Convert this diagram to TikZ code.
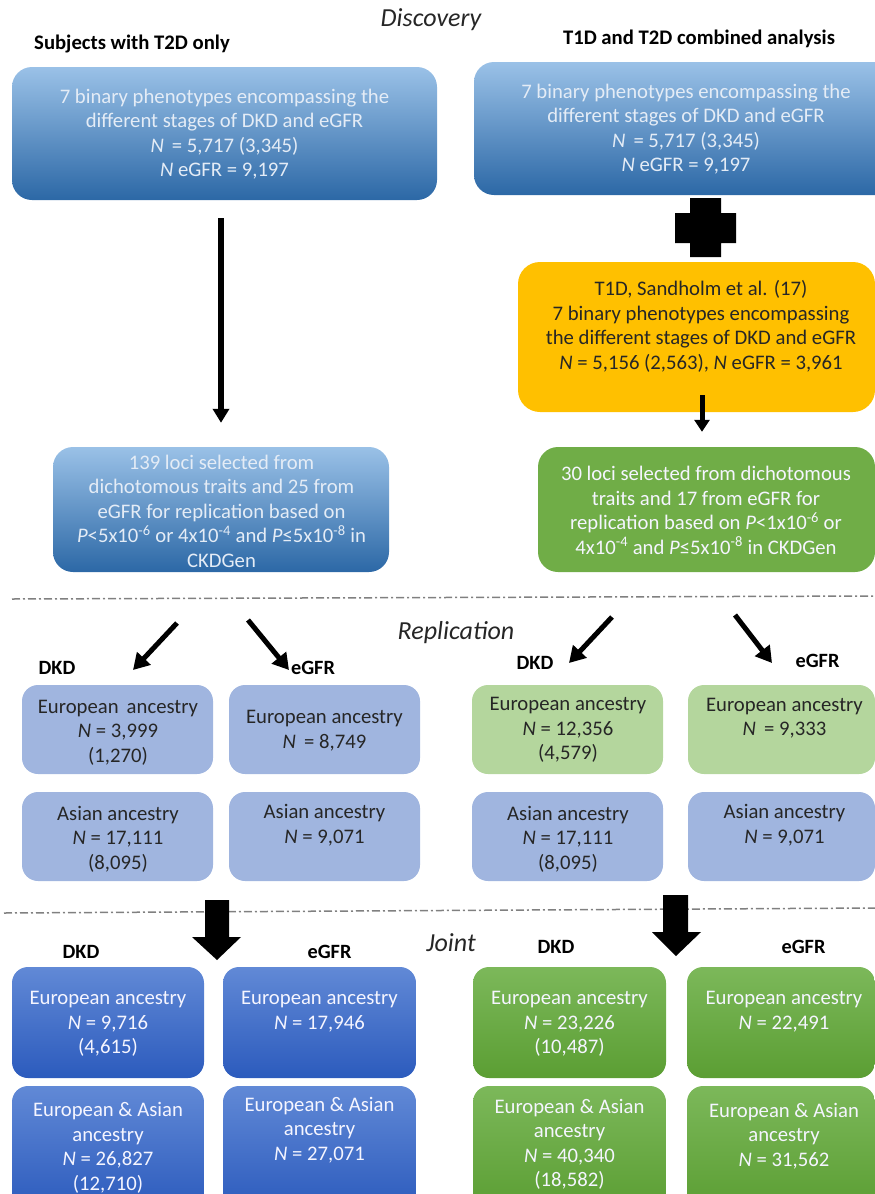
\documentclass[tikz,border=0pt]{standalone}
\usepackage{fontspec}
\setmainfont{Carlito}
\usetikzlibrary{arrows.meta,calc}
\definecolor{topblueA}{HTML}{9AC1E7}
\definecolor{topblueB}{HTML}{2C68A6}
\definecolor{lighttxt}{HTML}{E4ECF6}
\definecolor{orangebox}{HTML}{FFC000}
\definecolor{greenbox}{HTML}{70AD47}
\definecolor{repblue}{HTML}{A0B5DF}
\definecolor{repgreen}{HTML}{B4D69D}
\definecolor{jblueA}{HTML}{6189D6}
\definecolor{jblueB}{HTML}{2C5BBD}
\definecolor{jgreenA}{HTML}{7CB85A}
\definecolor{jgreenB}{HTML}{5B9E33}
\definecolor{dashgray}{HTML}{808080}
\newcommand{\bx}[6]{\node[#6, minimum width=#4pt, minimum height=#5pt] (#1) at (#2,#3) {};}
\begin{document}
\begin{tikzpicture}[x=1pt,y=-1pt,
  box/.style={rounded corners=16pt, inner sep=0pt, draw=none},
  topbox/.style={box, rounded corners=20pt, top color=topblueA, bottom color=topblueB},
  orbox/.style={box, rounded corners=22pt, fill=orangebox},
  grbox/.style={box, rounded corners=20pt, fill=greenbox},
  rbbox/.style={box, fill=repblue},
  rgbox/.style={box, fill=repgreen},
  jbbox/.style={box, top color=jblueA, bottom color=jblueB},
  jgbox/.style={box, top color=jgreenA, bottom color=jgreenB},
  txt/.style={align=center, inner sep=0pt, font=\fontsize{20.7}{24.5}\selectfont},
  ltxt/.style={txt, text=lighttxt},
  dtxt/.style={txt, text=black!85},
  wtxt/.style={txt, text=white!96!blue},
  head/.style={inner sep=0pt, font=\bfseries\fontsize{20.7}{23}\selectfont, text=black},
  lab/.style={inner sep=0pt, font=\bfseries\fontsize{20.3}{22}\selectfont, text=black},
  sect/.style={inner sep=0pt, font=\itshape\fontsize{26}{30}\selectfont, text=black!85},
  arrow/.style={line width=5pt, -{Triangle[width=16pt,length=14pt]}},
  darrow/.style={line width=5pt, -{Triangle[width=18pt,length=16pt]}},
  dashline/.style={draw=dashgray, line width=1.5pt, dash pattern=on 8pt off 3pt on 2pt off 3pt}
]
\useasboundingbox (0,0) rectangle (875,1194);
\clip (0,0) rectangle (875,1194);

% headings
\node[sect] (disc) at (431,20) {Discovery};
\node[head] (h1) at (132,44) {Subjects with T2D only};
\node[head] (h2) at (699,39) {T1D and T2D combined analysis};

% discovery boxes
\bx{tl}{224.5}{133.5}{425}{133}{topbox}
\node[ltxt] (tlT) at (224.5,134) {7 binary phenotypes encompassing the\\different stages of DKD and eGFR\\\textit{N}\, = 5,717 (3,345)\\\textit{N} eGFR = 9,197};
\bx{tr}{684.5}{128.5}{421}{133}{topbox}
\node[ltxt] (trT) at (686,129) {7 binary phenotypes encompassing the\\different stages of DKD and eGFR\\\textit{N}\, = 5,717 (3,345)\\\textit{N} eGFR = 9,197};

% cross
\fill[black] (690,198) -- (721,198) -- (721,213) -- (736,213) -- (736,243) -- (721,243) -- (721,257) -- (690,257) -- (690,243) -- (675,243) -- (675,213) -- (690,213) -- cycle;

\bx{or}{696.5}{337}{357}{150}{orbox}
\node[dtxt] (orT) at (701,326.5) {T1D, Sandholm et al. (17)\\7 binary phenotypes encompassing\\the different stages of DKD and eGFR\\\textit{N} = 5,156 (2,563), \textit{N} eGFR = 3,961};

\bx{tl2}{221}{509.5}{336}{125}{topbox}
\node[ltxt] (tl2T) at (221.5,511) {139 loci selected from\\dichotomous traits and 25 from\\eGFR for replication based on\\\textit{P}<5x10\textsuperscript{-6} or 4x10\textsuperscript{-4} and \textit{P}≤5x10\textsuperscript{-8} in\\CKDGen};
\bx{gr}{706.5}{509.5}{337}{125}{grbox}
\node[wtxt] (grT) at (706,510.5) {30 loci selected from dichotomous\\traits and 17 from eGFR for\\replication based on \textit{P}<1x10\textsuperscript{-6} or\\4x10\textsuperscript{-4} and \textit{P}≤5x10\textsuperscript{-8} in CKDGen};

% discovery arrows
\draw[arrow, line width=5.5pt] (tl2.north |- tl.south) -- (tl2.north) [shorten <=18pt, shorten >=24pt];
\draw[arrow, -{Triangle[width=15pt,length=12pt]}] ([xshift=5.5pt,yshift=17pt]or.south) -- ([xshift=-4.5pt,yshift=15pt]gr.north);

% separator 1
\draw[dashline] (12,599) -- (875,596);
\node[sect] (rep) at (456,633) {Replication};

% replication labels
\node[lab] (l1) at (57,668) {DKD};
\node[lab] (l2) at (313,668) {eGFR};
\node[lab] (l3) at (535,663) {DKD};
\node[lab] (l4) at (817.5,661) {eGFR};

% diagonal arrows
\coordinate (d1s) at (177,623); \coordinate (d1e) at (133,670);
\coordinate (d2s) at (248,620); \coordinate (d2e) at (289,670);
\coordinate (d3s) at (612,617); \coordinate (d3e) at (569,663);
\coordinate (d4s) at (735,615); \coordinate (d4e) at (772,663);
\draw[darrow] (d1s) -- (d1e);
\draw[darrow] (d2s) -- (d2e);
\draw[darrow] (d3s) -- (d3e);
\draw[darrow] (d4s) -- (d4e);

% replication boxes
\bx{r1}{117.5}{729.5}{191}{89}{rbbox}
\node[dtxt] (r1T) at (118,732.5) {European\, ancestry\\\textit{N} = 3,999\\(1,270)};
\bx{r2}{324.5}{729.5}{191}{89}{rbbox}
\node[dtxt] (r2T) at (324.5,730.5) {European ancestry\\\textit{N}\, = 8,749};
\bx{r3}{117.5}{836.5}{191}{89}{rbbox}
\node[dtxt] (r3T) at (118,839) {Asian ancestry\\\textit{N} = 17,111\\(8,095)};
\bx{r4}{324.5}{836.5}{191}{89}{rbbox}
\node[dtxt] (r4T) at (324.5,825) {Asian ancestry\\\textit{N} = 9,071};

\bx{r5}{567.5}{729.5}{191}{89}{rgbox}
\node[dtxt] (r5T) at (568,730) {European ancestry\\\textit{N} = 12,356\\(4,579)};
\bx{r6}{781.5}{729.5}{187}{89}{rgbox}
\node[dtxt] (r6T) at (784.5,718) {European ancestry\\\textit{N}\, = 9,333};
\bx{r7}{567.5}{836.5}{191}{89}{rbbox}
\node[dtxt] (r7T) at (568,839) {Asian ancestry\\\textit{N} = 17,111\\(8,095)};
\bx{r8}{781.5}{836.5}{187}{89}{rbbox}
\node[dtxt] (r8T) at (784.5,825) {Asian ancestry\\\textit{N} = 9,071};

% separator 2
\draw[dashline] (4,913) -- (875,908);
\node[sect] (joint) at (451,943) {Joint};

% fat arrows
\fill[black] (205,900) -- (229,900) -- (229,937) -- (241,937) -- (217,960) -- (192,937) -- (205,937) -- cycle;
\fill[black] (663,895) -- (688,895) -- (688,932) -- (701,932) -- (676,956) -- (652,932) -- (663,932) -- cycle;

% joint labels
\node[lab] (j1l) at (81,952) {DKD};
\node[lab] (j2l) at (329.5,952) {eGFR};
\node[lab] (j3l) at (556,947) {DKD};
\node[lab] (j4l) at (803.5,947) {eGFR};

% joint boxes
\bx{j1}{108}{1022.5}{192}{111}{jbbox}
\node[wtxt] (j1T) at (108,1024) {European ancestry\\\textit{N} = 9,716\\(4,615)};
\bx{j2}{319.5}{1022.5}{193}{111}{jbbox}
\node[wtxt] (j2T) at (319.5,1011.5) {European ancestry\\\textit{N} = 17,946};
\bx{j3}{108}{1148}{192}{124}{jbbox}
\node[wtxt] (j3T) at (108,1148) {European \& Asian\\ancestry\\\textit{N} = 26,827\\(12,710)};
\bx{j4}{319.5}{1148}{193}{124}{jbbox}
\node[wtxt] (j4T) at (319.5,1130) {European \& Asian\\ancestry\\\textit{N} = 27,071};

\bx{j5}{569.5}{1022.5}{193}{111}{jgbox}
\node[wtxt] (j5T) at (569.5,1024) {European ancestry\\\textit{N} = 23,226\\(10,487)};
\bx{j6}{781}{1022.5}{188}{111}{jgbox}
\node[wtxt] (j6T) at (784,1011.5) {European ancestry\\\textit{N} = 22,491};
\bx{j7}{569.5}{1148}{193}{124}{jgbox}
\node[wtxt] (j7T) at (569.5,1144.5) {European \& Asian\\ancestry\\\textit{N} = 40,340\\(18,582)};
\bx{j8}{781}{1148}{188}{124}{jgbox}
\node[wtxt] (j8T) at (784,1136) {European \& Asian\\ancestry\\\textit{N} = 31,562};
\end{tikzpicture}
\end{document}
